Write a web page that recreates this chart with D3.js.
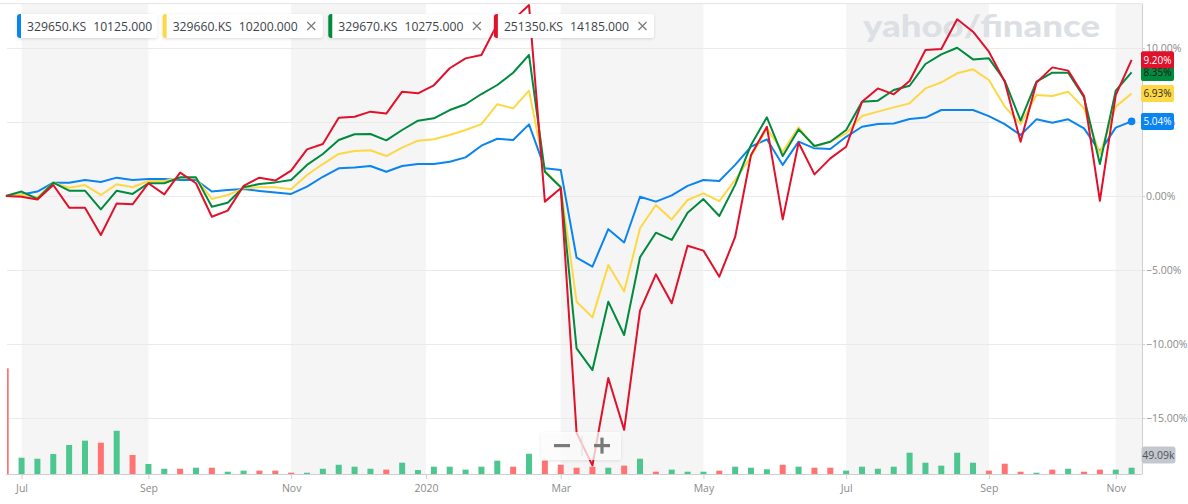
<!DOCTYPE html>
<html>
<head>
<meta charset="utf-8">
<script src="https://cdn.jsdelivr.net/npm/d3@7"></script>
<style>
  body { margin: 0; background: #fff; }
  svg { display: block; font-family: 'Open Sans', sans-serif; }
  .grid line { stroke: #eaeaea; }
  .axis-line { stroke: #cfcfcf; }
  .tick-label { font-size: 10.5px; fill: #8a8a8a; }
  .legend-text { font-size: 12.2px; fill: #3c4249; }
</style>
</head>
<body>
<svg id="chart"></svg>
<script>
// Compared symbols and their last prices
const symbols = ['329650.KS', '329660.KS', '329670.KS', '251350.KS'];
const prices = ['10125.000', '10200.000', '10275.000', '14185.000'];

// Weekly % change since start (Jun 2019 - Nov 2020)
const pct329650 = [0, 0.1, 0.3, 0.9, 0.9, 1.08, 0.95, 1.24, 1.08, 1.15,
  1.15, 1.08, 1.08, 0.3, 0.4, 0.47, 0.34, 0.23, 0.14, 0.63,
  1.3, 1.87, 1.92, 2.03, 1.64, 2.03, 2.16, 2.16, 2.32, 2.61,
  3.4, 3.87, 3.78, 4.84, 1.87, 1.76, -4.17, -4.77, -2.24, -3.14,
  -0.05, -0.38, 0.04, 0.68, 1.08, 1.01, 2.1, 3.33, 3.83, 2.1,
  3.67, 3.22, 3.18, 4.0, 4.68, 4.86, 4.9, 5.2, 5.3, 5.81,
  5.81, 5.81, 5.4, 4.86, 4.12, 5.18, 4.95, 5.18, 4.57, 3.0,
  4.62, 5.04];
const pct329660 = [0, 0.1, -0.09, 0.9, 0.56, 0.74, 0.07, 0.79, 0.59, 1.01,
  1.01, 1.24, 1.2, -0.2, 0.07, 0.52, 0.59, 0.59, 0.45, 1.42,
  2.16, 2.84, 3.04, 3.09, 2.7, 3.27, 3.74, 3.83, 4.12, 4.46,
  4.86, 6.2, 5.92, 7.12, 1.71, 0.63, -7.14, -8.2, -4.66, -6.46,
  -2.18, -0.61, -1.58, -0.27, 0.18, -0.34, 1.08, 2.66, 4.57, 3.0,
  4.64, 3.33, 3.67, 4.23, 5.4, 5.7, 5.99, 6.26, 7.27, 7.68,
  8.29, 8.56, 7.84, 6.04, 4.86, 6.82, 6.76, 7.05, 5.92, 2.84,
  6.04, 6.93];
const pct329670 = [0, 0.3, -0.2, 0.9, 0.36, 0.36, -0.9, 0.36, 0.14, 0.86,
  0.86, 1.26, 1.26, -0.72, -0.45, 0.59, 0.81, 0.92, 1.08, 2.1,
  2.84, 3.78, 4.17, 4.19, 3.76, 4.46, 5.09, 5.25, 5.81, 6.2,
  6.89, 7.5, 8.33, 9.53, 1.64, 0.59, -10.29, -11.76, -7.14, -9.39,
  -4.14, -2.48, -2.97, -1.13, -0.21, -1.35, 0.75, 3.45, 5.32, 2.7,
  4.5, 3.38, 3.67, 4.46, 6.37, 6.44, 7.16, 7.45, 8.92, 9.57,
  10.02, 9.23, 9.3, 7.79, 5.09, 7.72, 8.33, 8.33, 6.67, 2.16,
  7.12, 8.35];
const pct251350 = [0, -0.05, -0.23, 0.74, -0.79, -0.79, -2.64, -0.5, -0.56, 0.86,
  0.11, 1.58, 0.86, -1.4, -0.99, 0.68, 1.24, 1.04, 1.71, 3.15,
  3.51, 5.29, 5.36, 5.7, 5.57, 7.05, 6.94, 7.48, 8.63, 9.3,
  9.53, 11.6, 11.9, 12.9, -0.38, 0.52, -16.0, -18.2, -12.3, -15.8,
  -7.75, -5.29, -7.25, -3.36, -3.69, -5.45, -2.77, 2.77, 4.68, -1.58,
  3.6, 1.46, 2.54, 3.33, 6.37, 7.27, 6.87, 7.77, 9.86, 9.93,
  11.94, 11.1, 9.75, 7.72, 3.67, 7.66, 8.69, 8.47, 6.76, -0.32,
  6.82, 9.2];

// Weekly volume of 329650.KS (thousands) and whether the week closed up
const volume = [824, 127, 119, 156, 226, 260, 244, 337, 148, 78,
  41, 41, 49, 49, 18, 26, 26, 26, 10, 10,
  41, 72, 57, 41, 34, 88, 31, 57, 57, 34,
  57, 104, 57, 158, 104, 72, 49, 57, 49, 65,
  119, 18, 34, 18, 18, 26, 57, 49, 37, 72,
  57, 49, 49, 26, 57, 41, 57, 166, 88, 65,
  166, 88, 26, 80, 18, 10, 34, 41, 18, 34,
  34, 49.09];
const volumeUp = [0, 1, 1, 1, 1, 1, 0, 1, 0, 1,
  1, 0, 1, 0, 1, 1, 0, 0, 0, 1,
  1, 1, 1, 1, 0, 1, 1, 1, 1, 1,
  1, 1, 0, 1, 0, 0, 0, 0, 1, 0,
  1, 0, 1, 1, 1, 0, 1, 1, 1, 0,
  1, 0, 0, 1, 1, 1, 1, 1, 1, 1,
  1, 1, 0, 0, 0, 1, 0, 1, 0, 0,
  1, 1];

// Axis ticks (x ticks sit on week index)
const monthTicks = [1, 9, 18, 26.5, 35, 44, 53, 62, 70];
const monthLabels = ['Jul', 'Sep', 'Nov', '2020', 'Mar', 'May', 'Jul', 'Sep', 'Nov'];
const pctTicks = [10, 5, 0, -5, -10, -15];

class CompareChart {

  constructor(_config) {
    this.config = {
      parentElement: _config.parentElement,
      containerWidth: 1188,
      containerHeight: 504,
      plotLeft: 5.7,
      plotRight: 1142,
      plotTop: 4,
      plotBottom: 474,
      colors: ['#0a84f0', '#fdd845', '#008a3e', '#e0112b'],
      badgeText: ['#fff', '#2a2a2a', '#1a1a1a', '#fff']
    };
    this.series = [pct329650, pct329660, pct329670, pct251350];
    this.initVis();
    this.renderVis();
  }

  initVis() {
    let vis = this;
    const c = vis.config;

    vis.svg = d3.select(c.parentElement)
      .attr('width', c.containerWidth)
      .attr('height', c.containerHeight);

    const defs = vis.svg.append('defs');
    defs.append('filter').attr('id', 'shadow')
      .attr('x', '-10%').attr('y', '-30%').attr('width', '120%').attr('height', '160%')
      .append('feDropShadow')
      .attr('dx', 0).attr('dy', 1).attr('stdDeviation', 1.5)
      .attr('flood-color', '#000').attr('flood-opacity', 0.14);
    defs.append('clipPath').attr('id', 'plot-clip')
      .append('rect')
      .attr('x', c.plotLeft).attr('y', c.plotTop)
      .attr('width', c.plotRight - c.plotLeft).attr('height', c.plotBottom - c.plotTop);
    defs.append('clipPath').attr('id', 'bar-clip')
      .append('rect')
      .attr('x', 7).attr('y', c.plotTop)
      .attr('width', c.plotRight - 7).attr('height', c.plotBottom - c.plotTop);

    // Scales
    vis.xScale = d3.scaleLinear()
      .domain([0, pct329650.length - 1])
      .range([c.plotLeft, 1131.6]);

    vis.yScale = d3.scaleLinear()
      .domain([-15, 10])
      .range([418, 48]);

    vis.vScale = d3.scaleLinear()
      .domain([0, d3.max(volume)])
      .range([c.plotBottom, 368.3]);
  }

  renderVis() {
    let vis = this;
    const c = vis.config;

    // Alternating month bands
    const bandEdges = monthTicks.map(t => vis.xScale(t)).concat([c.plotRight]);
    const bands = d3.range(0, monthTicks.length, 2);
    vis.svg.append('g').selectAll('rect')
      .data(bands)
      .join('rect')
      .attr('x', k => bandEdges[k])
      .attr('y', c.plotTop)
      .attr('width', k => bandEdges[k + 1] - bandEdges[k])
      .attr('height', c.plotBottom - c.plotTop)
      .attr('fill', '#f5f5f5');

    // Frame top line
    vis.svg.append('line')
      .attr('x1', 0).attr('x2', c.plotRight)
      .attr('y1', 3.5).attr('y2', 3.5)
      .attr('stroke', '#e6e6e6');

    // Horizontal grid
    vis.svg.append('g')
      .attr('class', 'grid')
      .attr('transform', `translate(${c.plotRight},0)`)
      .call(d3.axisLeft(vis.yScale).tickValues(pctTicks).tickSize(c.plotRight - 7).tickFormat(''))
      .call(g => g.select('.domain').remove());

    // Watermark
    vis.svg.append('text')
      .attr('x', 863).attr('y', 37)
      .attr('textLength', 237)
      .attr('lengthAdjust', 'spacingAndGlyphs')
      .style('font-family', 'Lato, sans-serif')
      .style('font-weight', 900)
      .style('font-size', '30px')
      .attr('fill', '#dcdfe4')
      .text('yahoo/finance');

    // Volume bars
    vis.svg.append('g')
      .attr('clip-path', 'url(#bar-clip)')
      .selectAll('rect')
      .data(volume)
      .join('rect')
      .attr('x', (d, i) => vis.xScale(i) - 3)
      .attr('y', d => vis.vScale(d))
      .attr('width', 6)
      .attr('height', d => c.plotBottom - vis.vScale(d))
      .attr('fill', (d, i) => volumeUp[i] ? '#4dc78f' : '#ff7373');

    // Lines
    const line = d3.line()
      .x((d, i) => vis.xScale(i))
      .y(d => vis.yScale(d));

    vis.svg.append('g')
      .attr('clip-path', 'url(#plot-clip)')
      .selectAll('path')
      .data(vis.series)
      .join('path')
      .attr('d', line)
      .attr('fill', 'none')
      .attr('stroke', (d, i) => c.colors[i])
      .attr('stroke-width', 2)
      .attr('stroke-linejoin', 'round');

    const last = pct329650.length - 1;
    vis.svg.append('circle')
      .attr('cx', vis.xScale(last))
      .attr('cy', vis.yScale(pct329650[last]))
      .attr('r', 3.8)
      .attr('fill', c.colors[0]);

    // Zoom control
    const zoomG = vis.svg.append('g').attr('transform', 'translate(541,432)');
    zoomG.append('rect')
      .attr('width', 80).attr('height', 28).attr('rx', 3)
      .attr('fill', 'rgba(255,255,255,0.72)')
      .attr('filter', 'url(#shadow)');
    zoomG.append('line')
      .attr('x1', 41).attr('x2', 41).attr('y1', 4).attr('y2', 24)
      .attr('stroke', '#dddddd');
    zoomG.append('rect').attr('x', 13).attr('y', 12).attr('width', 16).attr('height', 3.2).attr('fill', '#7a7a7a');
    zoomG.append('rect').attr('x', 53).attr('y', 12).attr('width', 16).attr('height', 3.2).attr('fill', '#7a7a7a');
    zoomG.append('rect').attr('x', 59.4).attr('y', 5.6).attr('width', 3.2).attr('height', 16).attr('fill', '#7a7a7a');

    // Bottom axis
    const xAxisG = vis.svg.append('g')
      .attr('transform', `translate(0,${c.plotBottom})`)
      .call(d3.axisBottom(vis.xScale)
        .tickValues(monthTicks)
        .tickSize(5)
        .tickFormat((d, i) => monthLabels[i]));
    xAxisG.select('.domain').attr('d', `M${c.plotLeft},0.5H${c.plotRight}`).attr('class', 'axis-line');
    xAxisG.selectAll('.tick line').attr('stroke', '#cfcfcf');
    xAxisG.selectAll('.tick text')
      .attr('class', 'tick-label')
      .attr('y', 11)
      .style('font-family', "'Open Sans', sans-serif")
      .attr('fill', (d, i) => monthLabels[i] === '2020' ? '#555' : '#8a8a8a');

    // Right axis
    const yAxisG = vis.svg.append('g')
      .attr('transform', `translate(${c.plotRight},0)`)
      .call(d3.axisRight(vis.yScale)
        .tickValues(pctTicks)
        .tickSize(3)
        .tickPadding(1)
        .tickFormat(d => d3.format('.2f')(d) + '%'));
    yAxisG.select('.domain').attr('d', `M0.5,${c.plotTop}V${c.plotBottom}`).attr('class', 'axis-line');
    yAxisG.selectAll('.tick line').attr('stroke', '#cfcfcf');
    yAxisG.selectAll('.tick text')
      .attr('class', 'tick-label')
      .style('font-family', "'Open Sans', sans-serif")
      .attr('fill', '#808080');

    // Last value badges
    const badges = vis.series.map((s, i) => ({ i, v: s[s.length - 1] }));
    const badgeG = vis.svg.append('g').selectAll('g')
      .data(badges)
      .join('g')
      .attr('transform', d => `translate(1141,${vis.yScale(d.v) - 8.5})`);
    badgeG.append('rect')
      .attr('width', 33).attr('height', 17).attr('rx', 2)
      .attr('fill', d => c.colors[d.i]);
    badgeG.append('text')
      .attr('x', 16.5).attr('y', 12.2)
      .attr('text-anchor', 'middle')
      .style('font-size', '10px')
      .attr('fill', d => c.badgeText[d.i])
      .text(d => d3.format('.2f')(d.v) + '%');

    // Volume badge
    const vb = vis.svg.append('g').attr('transform', 'translate(1141.5,446.5)');
    vb.append('rect').attr('width', 34).attr('height', 17).attr('rx', 3).attr('fill', '#c3c7ce');
    vb.append('text')
      .attr('x', 17).attr('y', 12.2)
      .attr('text-anchor', 'middle')
      .style('font-size', '10.5px')
      .attr('fill', '#4e535a')
      .text(d3.format('.2f')(volume[volume.length - 1]) + 'k');

    // Legend chips
    let bx = 17;
    symbols.forEach((sym, i) => {
      const g = vis.svg.append('g').attr('transform', `translate(${bx},14)`);
      const box = g.append('rect')
        .attr('height', 24).attr('rx', 3)
        .attr('fill', '#fff')
        .attr('filter', 'url(#shadow)');
      g.append('path')
        .attr('d', 'M3,0H4V24H3A3,3 0 0 1 0,21V3A3,3 0 0 1 3,0Z')
        .attr('fill', c.colors[i]);
      const t1 = g.append('text').attr('class', 'legend-text').attr('x', 10).attr('y', 16.6).text(sym);
      const w1 = t1.node().getComputedTextLength();
      const t2 = g.append('text').attr('class', 'legend-text').attr('x', 10 + w1 + 7).attr('y', 16.6).text(prices[i]);
      const textEnd = 10 + w1 + 7 + t2.node().getComputedTextLength();
      let bw = textEnd + 5;
      if (i > 0) {
        const cx = textEnd + 13.5;
        g.append('path')
          .attr('d', `M${cx - 4},8L${cx + 4},16M${cx + 4},8L${cx - 4},16`)
          .attr('stroke', '#7a7a7a')
          .attr('stroke-width', 1.2);
        bw = cx + 11.5;
      }
      box.attr('width', bw);
      bx += bw + 5.5;
    });
  }
}

const chart = new CompareChart({ parentElement: '#chart' });
</script>
</body>
</html>
